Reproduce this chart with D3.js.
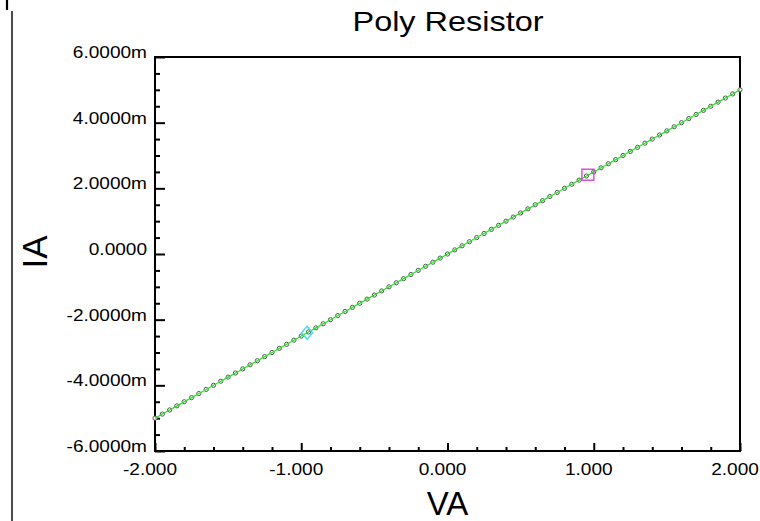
<!DOCTYPE html>
<html><head><meta charset="utf-8">
<script src="https://cdn.jsdelivr.net/npm/d3@7"></script>
<style>body{margin:0;background:#fff}svg{display:block}text{font-family:"Liberation Sans",Arial,sans-serif;fill:#000}</style>
</head><body>
<script>
const voltage = [-2,-1.95,-1.9,-1.85,-1.8,-1.75,-1.7,-1.65,-1.6,-1.55,-1.5,-1.45,-1.4,-1.35,-1.3,-1.25,-1.2,-1.15,-1.1,-1.05,-1,-0.95,-0.9,-0.85,-0.8,-0.75,-0.7,-0.65,-0.6,-0.55,-0.5,-0.45,-0.4,-0.35,-0.3,-0.25,-0.2,-0.15,-0.1,-0.05,0,0.05,0.1,0.15,0.2,0.25,0.3,0.35,0.4,0.45,0.5,0.55,0.6,0.65,0.7,0.75,0.8,0.85,0.9,0.95,1,1.05,1.1,1.15,1.2,1.25,1.3,1.35,1.4,1.45,1.5,1.55,1.6,1.65,1.7,1.75,1.8,1.85,1.9,1.95,2];
const currentMA = [-5,-4.875,-4.75,-4.625,-4.5,-4.375,-4.25,-4.125,-4,-3.875,-3.75,-3.625,-3.5,-3.375,-3.25,-3.125,-3,-2.875,-2.75,-2.625,-2.5,-2.375,-2.25,-2.125,-2,-1.875,-1.75,-1.625,-1.5,-1.375,-1.25,-1.125,-1,-0.875,-0.75,-0.625,-0.5,-0.375,-0.25,-0.125,0,0.125,0.25,0.375,0.5,0.625,0.75,0.875,1,1.125,1.25,1.375,1.5,1.625,1.75,1.875,2,2.125,2.25,2.375,2.5,2.625,2.75,2.875,3,3.125,3.25,3.375,3.5,3.625,3.75,3.875,4,4.125,4.25,4.375,4.5,4.625,4.75,4.875,5];
const xMajorTicks = [-2,-1,0,1,2];
const xTickLabels = ["-2.000","-1.000","0.000","1.000","2.000"];
const xMinorTicks = [-1.8,-1.6,-1.4,-1.2,-0.8,-0.6,-0.4,-0.2,0.2,0.4,0.6,0.8,1.2,1.4,1.6,1.8];
const yMajorTicks = [6,4,2,0,-2,-4,-6];
const yTickLabels = ["6.0000m","4.0000m","2.0000m","0.0000","-2.0000m","-4.0000m","-6.0000m"];
const yMinorTicks = [5.5,5,4.5,3.5,3,2.5,1.5,1,0.5,-0.5,-1,-1.5,-2.5,-3,-3.5,-4.5,-5,-5.5];
const cursorSquare = {v:0.96, i:2.4};
const cursorDiamond = {v:-0.96, i:-2.4};

const W=760,H=521;
const L=155,R=740,T=57,B=451;
const svg=d3.select("body").append("svg").attr("width",W).attr("height",H);
const x=d3.scaleLinear().domain([-2,2]).range([L,R]);
const y=d3.scaleLinear().domain([-6,6]).range([B,T]);

// left border line and mark
svg.append("line").attr("x1",12).attr("x2",12).attr("y1",11).attr("y2",H).attr("stroke","#000").attr("stroke-width",1.4);
svg.append("line").attr("x1",7).attr("x2",7).attr("y1",0).attr("y2",10).attr("stroke","#000").attr("stroke-width",2.2);

// frame
svg.append("rect").attr("x",L).attr("y",T).attr("width",R-L).attr("height",B-T).attr("fill","none").attr("stroke","#000").attr("stroke-width",2);

// ticks
const gx=svg.append("g").attr("transform",`translate(0,${B})`);
gx.call(d3.axisBottom(x).tickValues(xMajorTicks).tickSizeInner(-8).tickSizeOuter(0).tickFormat(""));
gx.append("g").call(d3.axisBottom(x).tickValues(xMinorTicks).tickSizeInner(-4).tickSizeOuter(0).tickFormat(""));
const gy=svg.append("g").attr("transform",`translate(${L},0)`);
gy.call(d3.axisLeft(y).tickValues(yMajorTicks).tickSizeInner(-10).tickSizeOuter(0).tickFormat(""));
gy.append("g").call(d3.axisLeft(y).tickValues(yMinorTicks).tickSizeInner(-5).tickSizeOuter(0).tickFormat(""));
svg.selectAll(".domain").remove();
svg.selectAll(".tick line").attr("stroke","#000").attr("stroke-width",2);

function stretch(sel,f){sel.each(function(){const w=this.getComputedTextLength();d3.select(this).attr("textLength",w*f).attr("lengthAdjust","spacingAndGlyphs");});}

// tick labels
const xl=svg.append("g").selectAll("text").data(xMajorTicks).join("text")
  .attr("x",d=>x(d)-5).attr("y",474.5).attr("text-anchor","middle").attr("font-size",17)
  .text((d,i)=>xTickLabels[i]);
stretch(xl,1.12);
const yl=svg.append("g").selectAll("text").data(yMajorTicks).join("text")
  .attr("x",147).attr("y",d=>y(d)+1).attr("text-anchor","end").attr("font-size",17)
  .text((d,i)=>yTickLabels[i]);
stretch(yl,1.12);

// data
const pts=voltage.map((v,i)=>({v,i:currentMA[i]}));
svg.append("g").selectAll("circle").data(pts).join("circle")
  .attr("cx",d=>x(d.v)).attr("cy",d=>y(d.i)).attr("r",2.1)
  .attr("fill","#fff").attr("stroke","#555").attr("stroke-width",1);
svg.append("path").datum(pts)
  .attr("d",d3.line().x(d=>x(d.v)).y(d=>y(d.i)))
  .attr("fill","none").attr("stroke","#1ee81e").attr("stroke-width",1.2);

// cursors
svg.append("rect").attr("x",x(cursorSquare.v)-6).attr("y",y(cursorSquare.i)-6).attr("width",12).attr("height",11)
  .attr("fill","none").attr("stroke","#e040e0").attr("stroke-width",1.4);
const dx=x(cursorDiamond.v),dy=y(cursorDiamond.i);
svg.append("path").attr("d",`M${dx},${dy-6.5}L${dx+5.5},${dy}L${dx},${dy+6.5}L${dx-5.5},${dy}Z`)
  .attr("fill","none").attr("stroke","#44ddee").attr("stroke-width",1.4);

// titles
const t=svg.append("text").attr("x",448).attr("y",31).attr("text-anchor","middle").attr("font-size",28).text("Poly Resistor");
t.attr("textLength",191).attr("lengthAdjust","spacingAndGlyphs");
svg.append("text").attr("x",447.5).attr("y",515).attr("text-anchor","middle").attr("font-size",33).text("VA");
svg.append("text").attr("transform","translate(47,252) rotate(-90)").attr("text-anchor","middle").attr("font-size",35).text("IA");
</script>
</body></html>
